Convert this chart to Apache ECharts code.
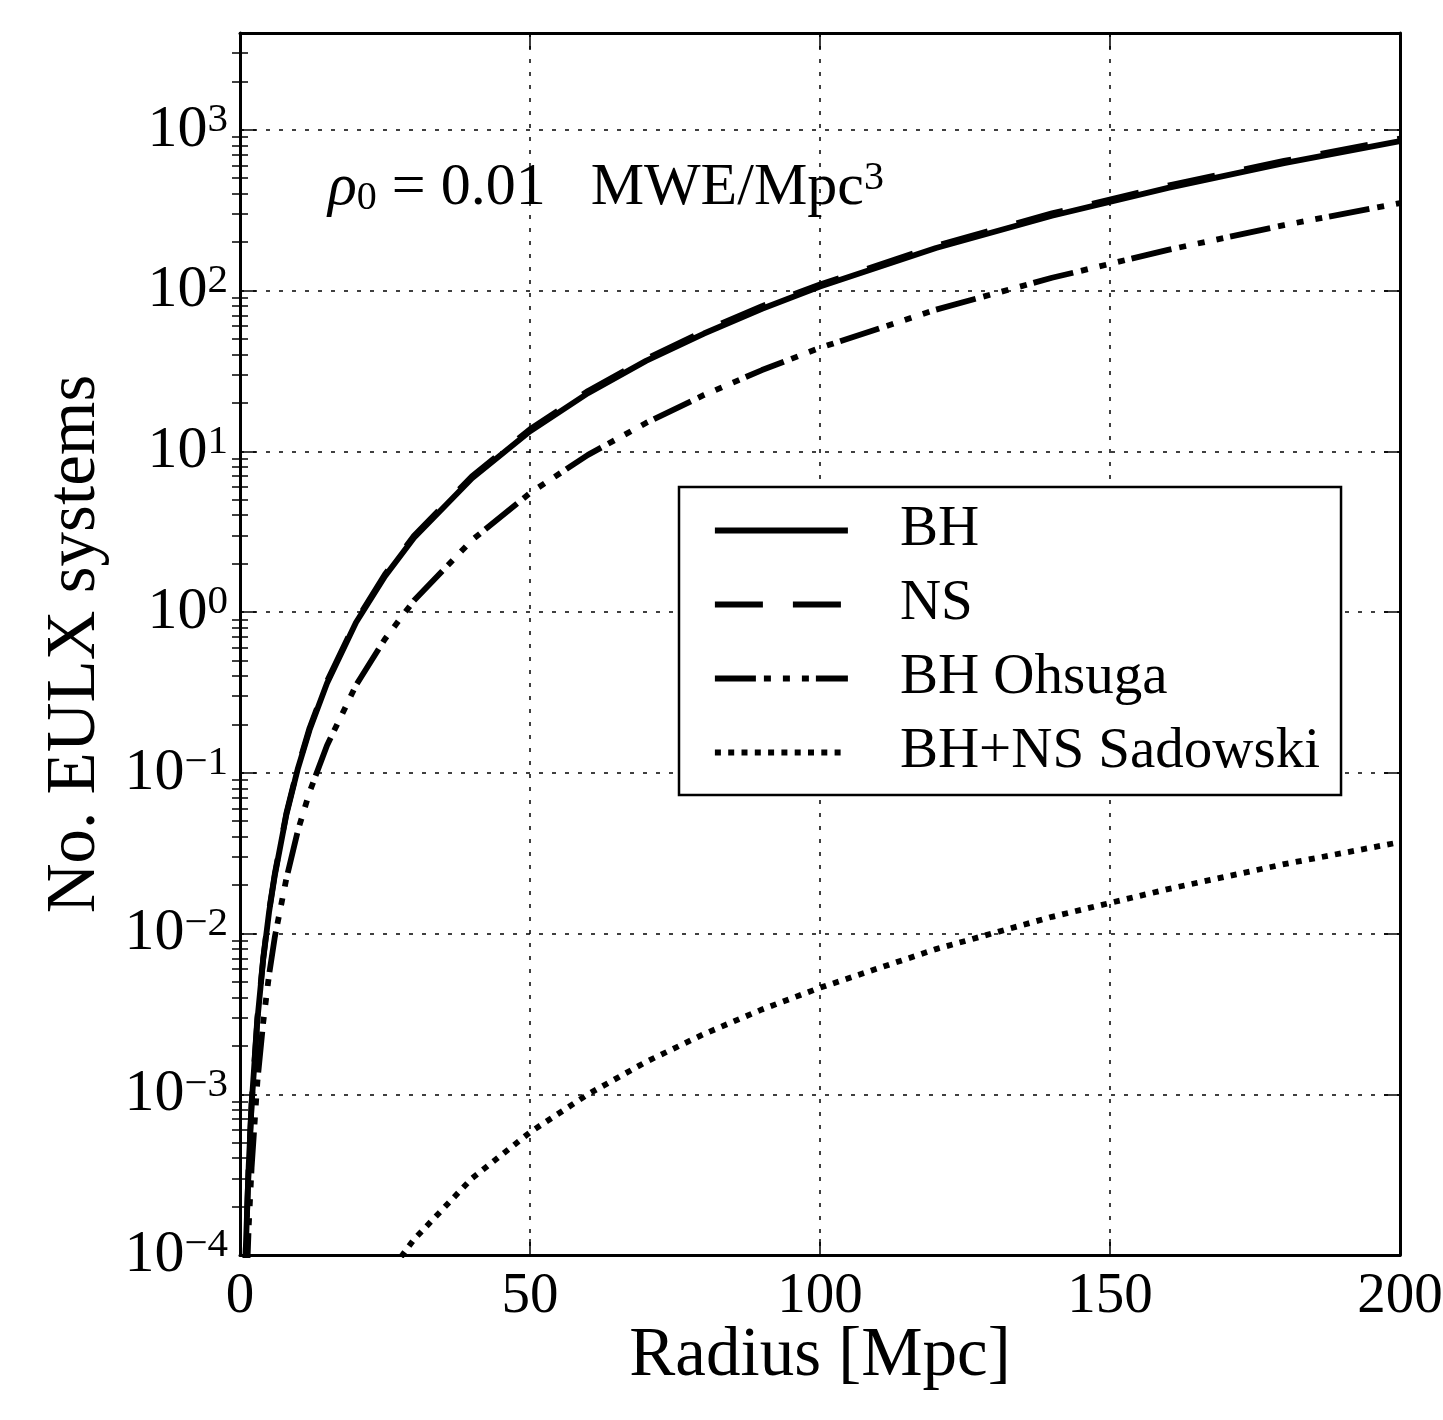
<!DOCTYPE html>
<html><head><meta charset="utf-8">
<script src="https://cdn.jsdelivr.net/npm/echarts@6/dist/echarts.min.js"></script>
<style>html,body{margin:0;padding:0;background:#fff}#c{width:1443px;height:1420px}</style>
</head><body><div id="c"></div><script>
// ---- data ----
const seriesNames = ['BH', 'NS', 'BH Ohsuga', 'BH+NS Sadowski'];

const radiusBH = [0.8, 1, 1.5, 2, 3, 4, 5, 6, 8, 10, 12, 15, 20, 25, 30, 40, 50, 60, 70, 80, 90, 100, 120, 140, 160, 180, 200];
const countBH  = [5.5e-5, 1.1e-4, 3.6e-4, 8.6e-4, 2.9e-3, 6.9e-3, 0.0135, 0.023, 0.055, 0.107, 0.185, 0.36, 0.86, 1.67, 2.9, 6.8, 13.3, 23, 36.5, 54, 77, 106, 184, 292, 435, 620, 850];

const radiusNS = [0.8, 1, 1.5, 2, 3, 4, 5, 6, 8, 10, 12, 15, 20, 25, 30, 40, 50, 60, 70, 80, 90, 100, 120, 140, 160, 180, 200];
const countNS  = [5.6e-5, 1.1e-4, 3.7e-4, 8.8e-4, 3.0e-3, 7.0e-3, 0.0138, 0.0235, 0.056, 0.109, 0.19, 0.37, 0.88, 1.72, 2.98, 7.0, 13.7, 23.7, 37.6, 56, 80, 109, 190, 302, 450, 640, 880];

const radiusOhsuga = [1.2, 1.5, 2, 3, 4, 5, 6, 8, 10, 12, 15, 20, 25, 30, 40, 50, 60, 70, 80, 90, 100, 120, 140, 160, 180, 200];
const countOhsuga  = [7.6e-5, 1.5e-4, 3.5e-4, 1.2e-3, 2.8e-3, 5.5e-3, 9.5e-3, 0.022, 0.044, 0.076, 0.148, 0.35, 0.68, 1.18, 2.8, 5.5, 9.5, 15, 22.4, 32, 44, 76, 120, 179, 255, 350];

const radiusSadowski = [25, 28, 30, 40, 50, 60, 70, 80, 90, 100, 120, 140, 160, 180, 200];
const countSadowski  = [7.2e-5, 1.0e-4, 1.25e-4, 3.0e-4, 5.8e-4, 1.0e-3, 1.59e-3, 2.37e-3, 3.37e-3, 4.6e-3, 8.0e-3, 1.27e-2, 1.89e-2, 2.7e-2, 3.7e-2];

const xTicks = [0, 50, 100, 150, 200];
const yMajorTicks = [1e-4, 1e-3, 1e-2, 1e-1, 1, 10, 100, 1000];
const yMinorMultipliers = [2, 3, 4, 5, 6, 7, 8, 9];
const yMin = 1e-4, yMax = 4000;
const annotationText = ['ρ', '0', ' = 0.01   MWE/Mpc', '3'];

// ---- build ----
const FONT = 'Liberation Serif';
const yMinorTicks = [];
yMajorTicks.forEach(t => yMinorMultipliers.forEach(m => { if (t * m < yMax) yMinorTicks.push(t * m); }));

const pairs = (xs, ys) => xs.map((x, i) => [x, ys[i]]);
const LW = 5.8;
const dashes = ['solid', [48, 30], [41, 8, 7, 12, 7, 12, 7, 7], [6, 7.3]];
const seriesData = [pairs(radiusBH, countBH), pairs(radiusNS, countNS), pairs(radiusOhsuga, countOhsuga), pairs(radiusSadowski, countSadowski)];

const gridLine = { show: true, lineStyle: { color: '#000', width: 1.5, type: [4, 9] } };
const border = { show: true, onZero: false, lineStyle: { color: '#000', width: 3 } };
const supText = e => (e < 0 ? '\u2212' + (-e) : String(e));

function yAxisBase(extra) {
  return Object.assign({
    type: 'log', logBase: 10, min: yMin, max: yMax, gridIndex: 0,
    axisLine: border, splitLine: { show: false }, minorTick: { show: false },
    axisLabel: { show: false }
  }, extra);
}

const chart = echarts.init(document.getElementById('c'), null, { renderer: 'canvas' });
chart.setOption({
  animation: false,
  backgroundColor: '#fff',
  grid: { left: 240, right: 43, top: 33, bottom: 165, containLabel: false, outerBoundsMode: 'none' },
  xAxis: [{
    type: 'value', min: 0, max: 200, interval: 50, position: 'bottom',
    axisLine: border,
    axisTick: { show: true, inside: true, length: 16, lineStyle: { color: '#000', width: 1.5 }, customValues: xTicks },
    axisLabel: { show: true, color: '#000', fontFamily: FONT, fontSize: 57, margin: 14, customValues: xTicks },
    splitLine: gridLine,
    name: 'Radius [Mpc]', nameLocation: 'middle', nameGap: 67, nameMoveOverlap: false,
    nameTextStyle: { color: '#000', fontFamily: FONT, fontSize: 69 }
  }, {
    type: 'value', min: 0, max: 200, interval: 50, position: 'top',
    axisLine: border,
    axisTick: { show: true, inside: true, length: 16, lineStyle: { color: '#000', width: 1.5 } },
    axisLabel: { show: false }, splitLine: { show: false }
  }],
  yAxis: [
    yAxisBase({
      position: 'left',
      axisTick: { show: true, inside: true, length: 16, lineStyle: { color: '#000', width: 1.5 }, customValues: yMajorTicks },
      axisLabel: {
        show: true, margin: 12, customValues: yMajorTicks,
        formatter: v => '{b|10}{s|' + supText(Math.round(Math.log10(v))) + '}',
        rich: {
          b: { fontFamily: FONT, fontSize: 60, lineHeight: 60, color: '#000', verticalAlign: 'middle' },
          s: { fontFamily: FONT, fontSize: 41, lineHeight: 41, color: '#000', verticalAlign: 'top' }
        }
      },
      splitLine: { show: true, lineStyle: { color: '#000', width: 1.5, type: [4, 9] } },
      name: 'No. EULX systems', nameLocation: 'middle', nameGap: 130, nameRotate: 90, nameMoveOverlap: false,
      nameTextStyle: { color: '#000', fontFamily: FONT, fontSize: 69 }
    }),
    yAxisBase({
      position: 'left', axisLine: { show: false },
      axisTick: { show: true, inside: true, length: 8, lineStyle: { color: '#000', width: 1.5 }, customValues: yMinorTicks }
    }),
    yAxisBase({
      position: 'right',
      axisTick: { show: true, inside: true, length: 16, lineStyle: { color: '#000', width: 1.5 }, customValues: yMajorTicks }
    }),
    yAxisBase({
      position: 'right', axisLine: { show: false },
      axisTick: { show: true, inside: true, length: 8, lineStyle: { color: '#000', width: 1.5 }, customValues: yMinorTicks }
    })
  ],
  legend: {
    orient: 'vertical', left: 679, top: 487,
    padding: [15, 21, 14, 33],
    itemWidth: 133, itemHeight: 57, itemGap: 17,
    borderColor: '#000', borderWidth: 2.5, borderRadius: 0, backgroundColor: '#fff',
    textStyle: { color: '#000', fontFamily: FONT, fontSize: 57, lineHeight: 57, padding: [0, 0, 0, 47] },
    lineStyle: { width: LW },
    itemStyle: { color: 'rgba(0,0,0,0)', borderColor: 'rgba(0,0,0,0)', borderWidth: 0, opacity: 0 },
    data: seriesNames,
    z: 10
  },
  graphic: [{
    type: 'text', left: 328, top: 158, z: 10,
    style: {
      text: '{r|' + annotationText[0] + '}{sub|' + annotationText[1] + '}{n|' + annotationText[2] + '}{sup|' + annotationText[3] + '}',
      rich: {
        r: { fontFamily: FONT, fontSize: 60, lineHeight: 60, fontStyle: 'italic', fill: '#000', verticalAlign: 'middle' },
        sub: { fontFamily: FONT, fontSize: 40, lineHeight: 40, fill: '#000', verticalAlign: 'bottom' },
        n: { fontFamily: FONT, fontSize: 60, lineHeight: 60, fill: '#000', verticalAlign: 'middle' },
        sup: { fontFamily: FONT, fontSize: 40, lineHeight: 40, fill: '#000', verticalAlign: 'top' }
      }
    }
  }],
  series: seriesNames.map((name, i) => ({
    name, type: 'line', xAxisIndex: 0, yAxisIndex: 0,
    data: seriesData[i], symbol: 'none', showSymbol: false, clip: true,
    z: 3 + (i === 1 ? 1 : 0),
    lineStyle: { color: '#000', width: LW, type: dashes[i], cap: 'butt' },
    itemStyle: { color: '#000' },
    emphasis: { disabled: true }
  }))
});
</script></body></html>
